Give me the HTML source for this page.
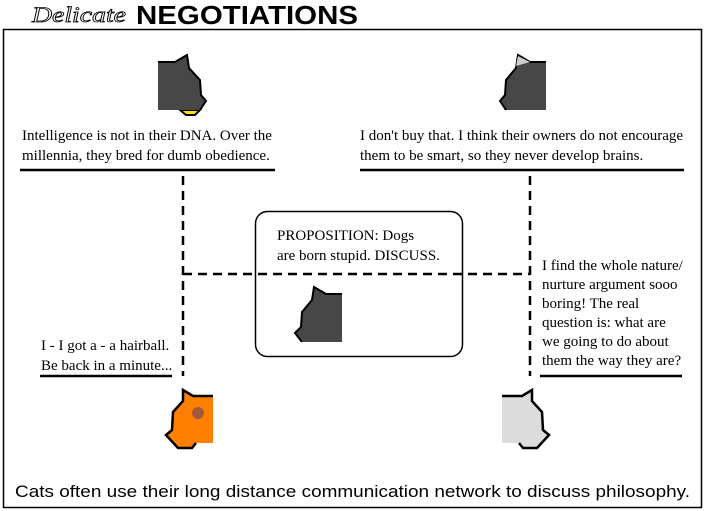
<!DOCTYPE html>
<html><head><style>
body{margin:0;background:#fff;width:705px;height:511px;overflow:hidden;position:relative;font-family:"Liberation Serif",serif;}
.t{position:absolute;font-size:15px;line-height:20px;color:#000;white-space:nowrap}
</style></head><body>
<svg width="705" height="511" style="position:absolute;left:0;top:0">
<rect x="3.5" y="29.5" width="698" height="478" fill="none" stroke="#000" stroke-width="1.5"/>
<text x="32" y="22" font-family="Liberation Serif" font-style="italic" font-size="22" fill="#fff" stroke="#000" stroke-width="0.8" textLength="94" lengthAdjust="spacingAndGlyphs">Delicate</text>
<text x="136" y="24" font-family="Liberation Sans" font-weight="bold" font-size="26" textLength="222" lengthAdjust="spacingAndGlyphs">NEGOTIATIONS</text>
<g stroke="#000" stroke-width="2.5" fill="none">
<line x1="20" y1="170" x2="275" y2="170"/>
<line x1="360" y1="170" x2="684" y2="170"/>
<line x1="40" y1="376" x2="172" y2="376"/>
<line x1="540" y1="376" x2="682" y2="376"/>
</g>
<g stroke="#000" stroke-width="2.5" stroke-dasharray="9,6" fill="none">
<line x1="183" y1="176" x2="183" y2="376"/>
<line x1="530" y1="176" x2="530" y2="376"/>
<line x1="183" y1="274" x2="530" y2="274"/>
</g>
<rect x="255.5" y="211.5" width="207" height="145" rx="12" fill="none" stroke="#000" stroke-width="1.5"/>
<path d="M180,110 L186,115 L195,115 L200,110 Z" fill="#ffe000" stroke="#000" stroke-width="2"/>
<path d="M158,62 L175,62 L187,55 L189,68 L200,80 L201,95 L206,101 L200,110 L158,110 Z" fill="#474747"/>
<path d="M158,62 L175,62 L187,55 L189,68 L200,80 L201,95 L206,101 L200,110" fill="none" stroke="#000" stroke-width="2"/>
<path d="M546,62 L530,62 L518,55 L516,68 L506,80 L505,95 L500,101 L506,110 L546,110 Z" fill="#474747"/>
<path d="M546,62 L530,62 L518,55 L516,68 L506,80 L505,95 L500,101 L506,110" fill="none" stroke="#000" stroke-width="2"/>
<path d="M530,62 L518,56 L516,66 Z" fill="#ccc"/>
<path d="M342,294 L326,294 L314,287 L312,300 L302,312 L301,327 L295,333 L302,342 L342,342 Z" fill="#474747"/>
<path d="M342,294 L326,294 L314,287 L312,300 L302,312 L301,327 L295,333 L302,342" fill="none" stroke="#000" stroke-width="2"/>
<path d="M213,396 L193,396 L183,390 L183,401 L173,412 L172,430 L166,435 L178,448 L192,448 L196,443 L213,443 Z" fill="#ff8000"/>
<path d="M213,396 L193,396 L183,390 L183,401 L173,412 L172,430 L166,435 L178,448 L192,448 L196,443" fill="none" stroke="#000" stroke-width="2.5"/>
<circle cx="198" cy="413" r="6" fill="#a05a3a"/>
<path d="M502,396 L522,396 L532,390 L532,401 L542,412 L543,430 L549,435 L537,448 L523,448 L519,443 L502,443 Z" fill="#dcdcdc"/>
<path d="M502,396 L522,396 L532,390 L532,401 L542,412 L543,430 L549,435 L537,448 L523,448 L519,443" fill="none" stroke="#000" stroke-width="2.5"/>
<text x="15" y="497" font-family="Liberation Sans" font-size="17" textLength="675" lengthAdjust="spacingAndGlyphs">Cats often use their long distance communication network to discuss philosophy.</text>
</svg>
<div class="t" style="left:22px;top:126px">Intelligence is not in their DNA. Over the<br>millennia, they bred for dumb obedience.</div>
<div class="t" style="left:360px;top:126px">I don't buy that. I think their owners do not encourage<br>them to be smart, so they never develop brains.</div>
<div class="t" style="left:277px;top:226px">PROPOSITION: Dogs<br>are born stupid. DISCUSS.</div>
<div class="t" style="left:41px;top:336px">I - I got a - a hairball.<br>Be back in a minute...</div>
<div class="t" style="left:542px;top:257px;line-height:19px">I find the whole nature/<br>nurture argument sooo<br>boring! The real<br>question is: what are<br>we going to do about<br>them the way they are?</div>
</body></html>
